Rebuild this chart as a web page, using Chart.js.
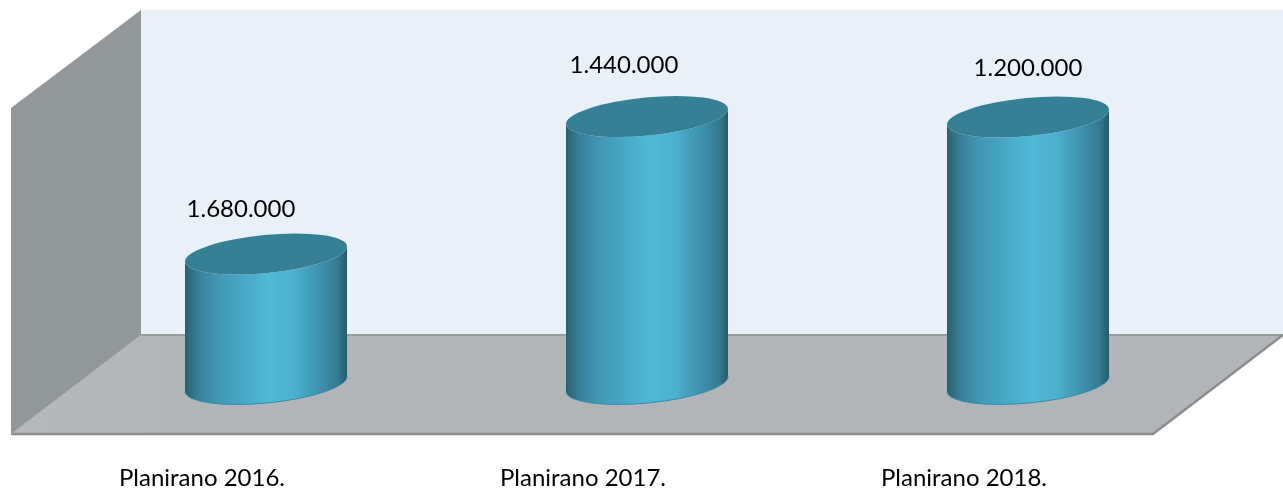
<!DOCTYPE html>
<html>
<head>
<meta charset="utf-8">
<title>Planirano</title>
<script src="https://cdn.jsdelivr.net/npm/chart.js@4/dist/chart.umd.min.js"></script>
<style>
    html, body { margin: 0; padding: 0; background: #fff; }
    canvas { display: block; }
</style>
</head>
<body>
<canvas id="chart" width="1283" height="489"></canvas>
<script>
// Categories and the printed values
const categories = ['Planirano 2016.', 'Planirano 2017.', 'Planirano 2018.'];
const valueLabels = ['1.680.000', '1.440.000', '1.200.000'];
// Column heights as drawn (they do not follow the printed values in the picture)
const columnHeights = [130, 267.5, 267];

const FONT = '24px Lato';

// Room: back wall, left wall and floor
const roomPlugin = {
    id: 'room',
    beforeDatasetsDraw(chart) {
        const ctx = chart.ctx;
        const top = chart.chartArea.top;
        const right = chart.width;
        const wallX = 141, floorY = 335, dx = 130, dy = 99;

        ctx.save();
        ctx.fillStyle = '#e9f0f7';
        ctx.fillRect(wallX, top, right - wallX, floorY - top);

        ctx.fillStyle = '#92979a';
        ctx.beginPath();
        ctx.moveTo(wallX, top);
        ctx.lineTo(wallX, floorY);
        ctx.lineTo(wallX - dx, floorY + dy);
        ctx.lineTo(wallX - dx, top + dy - 1);
        ctx.closePath();
        ctx.fill();

        const floor = ctx.createLinearGradient(wallX - dx, 0, wallX + 100, 0);
        floor.addColorStop(0, '#b4b9bd');
        floor.addColorStop(1, '#b1b5b8');
        ctx.fillStyle = floor;
        ctx.beginPath();
        ctx.moveTo(wallX, floorY);
        ctx.lineTo(right, floorY);
        ctx.lineTo(right - dx, floorY + dy);
        ctx.lineTo(wallX - dx, floorY + dy);
        ctx.closePath();
        ctx.fill();

        // Floor edges
        ctx.strokeStyle = '#9a9d9d';
        ctx.lineWidth = 2;
        ctx.beginPath();
        ctx.moveTo(wallX, floorY);
        ctx.lineTo(right, floorY);
        ctx.stroke();
        ctx.strokeStyle = '#8a8d8e';
        ctx.lineWidth = 2.5;
        ctx.beginPath();
        ctx.moveTo(right, floorY);
        ctx.lineTo(right - dx, floorY + dy);
        ctx.lineTo(wallX - dx, floorY + dy);
        ctx.stroke();
        ctx.strokeStyle = '#a3a8aa';
        ctx.lineWidth = 1;
        ctx.beginPath();
        ctx.moveTo(wallX, floorY);
        ctx.lineTo(wallX - dx, floorY + dy);
        ctx.stroke();
        ctx.restore();
    }
};

// Draw each bar element as a tilted cylinder
const cylinderPlugin = {
    id: 'cylinder',
    afterDatasetsDraw(chart) {
        const ctx = chart.ctx;
        const tilt = -5.5 * Math.PI / 180;

        chart.getDatasetMeta(0).data.forEach((bar) => {
            const rx = bar.width / 2 / Math.cos(tilt);
            const ry = 19;
            const left = bar.x - bar.width / 2;
            const right = bar.x + bar.width / 2;

            const side = ctx.createLinearGradient(left, 0, right, 0);
            side.addColorStop(0, '#29606f');
            side.addColorStop(0.08, '#387f98');
            side.addColorStop(0.2, '#4097b3');
            side.addColorStop(0.38, '#49aac8');
            side.addColorStop(0.52, '#51b8d8');
            side.addColorStop(0.68, '#4cafcd');
            side.addColorStop(0.85, '#3b8ea9');
            side.addColorStop(0.94, '#347c92');
            side.addColorStop(1, '#265a6a');

            ctx.save();
            ctx.fillStyle = side;
            ctx.beginPath();
            ctx.ellipse(bar.x, bar.base, rx, ry, tilt, Math.PI, 0, true);
            ctx.ellipse(bar.x, bar.y, rx, ry, tilt, 0, Math.PI, false);
            ctx.closePath();
            ctx.fill();

            // Bright rim along the foot
            ctx.strokeStyle = '#2f90ae';
            ctx.lineWidth = 1;
            ctx.beginPath();
            ctx.ellipse(bar.x, bar.base, rx, ry, tilt, Math.PI, 0, true);
            ctx.stroke();

            // Top face
            ctx.fillStyle = '#368096';
            ctx.beginPath();
            ctx.ellipse(bar.x, bar.y, rx, ry, tilt, 0, Math.PI * 2);
            ctx.fill();
            ctx.restore();
        });
    }
};

// Printed values, moved by hand in the original just as here
const valueLabelPlugin = {
    id: 'valueLabel',
    afterDraw(chart) {
        const ctx = chart.ctx;
        const shiftX = [-25, -23, 0];
        const shiftY = [-45, -51, -49];

        ctx.save();
        ctx.font = FONT;
        ctx.fillStyle = '#000';
        ctx.textAlign = 'center';
        ctx.textBaseline = 'middle';
        chart.getDatasetMeta(0).data.forEach((bar, i) => {
            ctx.fillText(valueLabels[i], bar.x + shiftX[i], bar.y + shiftY[i]);
        });
        ctx.restore();
    }
};

new Chart(document.getElementById('chart'), {
    type: 'bar',
    data: {
        labels: categories,
        datasets: [{
            data: columnHeights,
            backgroundColor: 'transparent',
            barThickness: 162
        }]
    },
    options: {
        responsive: false,
        animation: false,
        devicePixelRatio: 1,
        layout: { padding: { left: 75.5, right: 64.5, top: 10, bottom: 0 } },
        plugins: {
            legend: { display: false },
            tooltip: { enabled: false }
        },
        scales: {
            x: {
                grid: { display: false },
                border: { display: false },
                afterFit: (scale) => {
                    scale.height = 105;
                    scale.paddingLeft = 0;
                    scale.paddingRight = 0;
                },
                ticks: {
                    autoSkip: false,
                    maxRotation: 0,
                    padding: 72,
                    labelOffset: -64,
                    color: '#000',
                    font: { family: 'Lato', size: 24 }
                }
            },
            y: {
                display: false,
                min: 0,
                max: 374
            }
        }
    },
    plugins: [roomPlugin, cylinderPlugin, valueLabelPlugin]
});
</script>
</body>
</html>
